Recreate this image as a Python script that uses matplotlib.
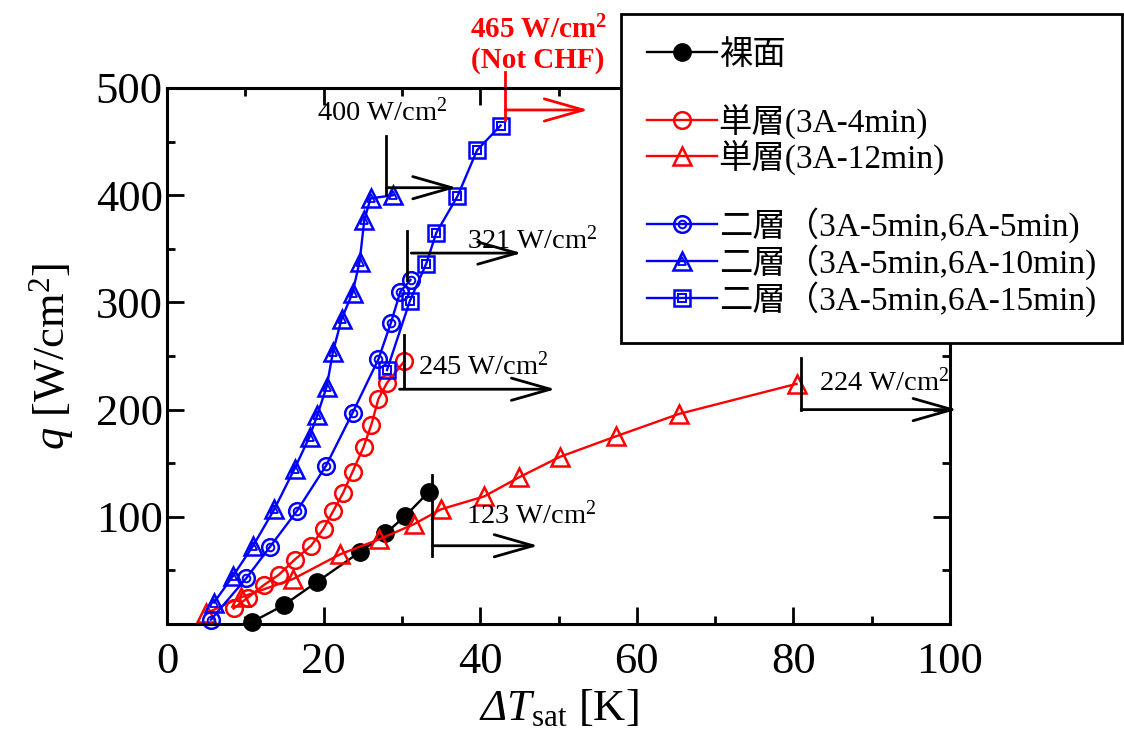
import matplotlib
matplotlib.use('Agg')
import matplotlib.pyplot as plt
from matplotlib.lines import Line2D
from matplotlib.ticker import MultipleLocator

plt.rcParams['font.family'] = ['Liberation Serif', 'Noto Sans CJK JP']
plt.rcParams['mathtext.fontset'] = 'custom'
plt.rcParams['mathtext.rm'] = 'Liberation Serif'
plt.rcParams['mathtext.it'] = 'Liberation Serif:italic'
plt.rcParams['mathtext.bf'] = 'Liberation Serif:bold'
# italic capital Greek (mathtext forces \mathit Greek capitals upright)
plt.rcParams['mathtext.cal'] = 'Liberation Serif:italic'

# data (dT_sat [K], q [W/cm2])
bare_dt = [10.9, 14.9, 19.2, 24.7, 27.9, 30.4, 33.4]
bare_q = [2, 17.5, 39.5, 67.5, 84.5, 100.5, 123]

single4_dt = [8.5, 10.3, 12.4, 14.3, 16.3, 18.4, 20.0, 21.2, 22.5, 23.7, 25.1, 26.1, 27.0, 28.1, 30.3]
single4_q = [14.5, 24.5, 36.5, 46, 60, 73, 89, 105, 122.5, 142, 165, 186, 210, 225, 245]

single12_dt = [5.0, 9.5, 16.1, 22.1, 27.1, 31.5, 35.0, 40.5, 45.0, 50.2, 57.3, 65.4, 80.4]
single12_q = [10, 25, 42, 65, 79, 93, 107, 119, 137, 156, 175, 196, 224]

double5_dt = [5.6, 10.1, 13.1, 16.6, 20.3, 23.7, 27.0, 28.6, 29.8, 31.1]
double5_q = [4, 42.5, 71.5, 105.5, 147.5, 197, 247, 281, 310, 321]

double10_dt = [6.0, 8.4, 11.0, 13.7, 16.3, 18.2, 19.2, 20.4, 21.2, 22.3, 23.7, 24.6, 25.2, 26.0, 28.9]
double10_q = [20, 44.5, 73, 107, 145, 174.5, 195, 221.5, 254, 284.5, 309, 338, 377, 397, 400]

double15_dt = [28.1, 31.0, 33.1, 34.4, 37.1, 39.6, 42.6]
double15_q = [237, 301, 336, 365, 399, 442, 465]

labels = ['裸面', '単層(3A-4min)', '単層(3A-12min)',
          '二層（3A-5min,6A-5min)', '二層（3A-5min,6A-10min)', '二層（3A-5min,6A-15min)']

# CHF markers: (text, text x, text y, vline x, vline y0, vline y1, arrow y, arrow x0, arrow x1)
chf_notes = [
    ('400 W/cm$^2$', 19.2, 477, 28.0, 400, 455, 407, 28.0, 37.0),
    ('321 W/cm$^2$', 38.3, 358, 30.6, 321, 367, 346, 31.2, 45.3),
    ('245 W/cm$^2$', 32.0, 240, 30.3, 220, 270, 219, 29.7, 49.6),
    ('123 W/cm$^2$', 38.2, 101, 33.9, 63, 139, 73, 33.9, 47.4),
    ('224 W/cm$^2$', 83.3, 225, 81.0, 200, 248, 200, 81.0, 100.9),
]

BLUE = '#0000ff'
RED = '#ff0000'

fig = plt.figure(figsize=(11.24, 7.32), dpi=100)
ax = fig.add_axes([167 / 1124, 1 - 624 / 732, (950 - 167) / 1124, (624 - 88) / 732])

lw = 1.7
mew = 1.8

h_bare, = ax.plot(bare_dt, bare_q, '-o', color='black', mfc='black', mec='black',
                  ms=12.5, lw=lw, clip_on=False)
h_s4, = ax.plot(single4_dt, single4_q, '-o', color=RED, mfc='none', mec=RED,
                ms=12, lw=lw, mew=mew, clip_on=False)
h_s12, = ax.plot(single12_dt, single12_q, '-^', color=RED, mfc='none', mec=RED,
                 ms=13, lw=lw, mew=mew, clip_on=False)

# double-layer series: outer marker plus a small inner marker
h_d5, = ax.plot(double5_dt, double5_q, '-o', color=BLUE, mfc='none', mec=BLUE,
                ms=12, lw=lw, mew=mew, clip_on=False)
h_d5i, = ax.plot(double5_dt, double5_q, 'o', mfc='none', mec=BLUE, ms=5.5, mew=1.4, clip_on=False)
h_d10, = ax.plot(double10_dt, double10_q, '-^', color=BLUE, mfc='none', mec=BLUE,
                 ms=12.5, lw=lw, mew=mew, clip_on=False)
h_d10i, = ax.plot(double10_dt, double10_q, '^', mfc='none', mec=BLUE, ms=6, mew=1.3, clip_on=False)
h_d15, = ax.plot(double15_dt, double15_q, '-s', color=BLUE, mfc='none', mec=BLUE,
                 ms=12, lw=lw, mew=mew, clip_on=False)
h_d15i, = ax.plot(double15_dt, double15_q, 's', mfc='none', mec=BLUE, ms=5.5, mew=1.4, clip_on=False)

arrow_props = dict(arrowstyle='->,head_length=1.4,head_width=0.4', lw=2,
                   mutation_scale=20, shrinkA=0, shrinkB=0)

for text, tx, ty, vx, vy0, vy1, ay, ax0, ax1 in chf_notes:
    ax.plot([vx, vx], [vy0, vy1], color='black', lw=2, clip_on=False)
    ax.annotate('', xy=(ax1, ay), xytext=(ax0, ay), arrowprops=dict(arrow_props, color='black'),
                annotation_clip=False)
    ax.text(tx, ty, text, fontsize=20.5, ha='left', va='center', clip_on=False)

# 465 W/cm2 (not CHF) marker in red
ax.plot([43.2, 43.2], [470, 515], color=RED, lw=2, clip_on=False)
ax.annotate('', xy=(53.8, 479.5), xytext=(43.2, 479.5), arrowprops=dict(arrow_props, color=RED),
            annotation_clip=False)
ax.text(47.4, 540, '465 W/cm$^\\mathbf{2}$\n(Not CHF)', fontsize=21, fontweight='bold',
        color=RED, ha='center', va='center', linespacing=1.1, clip_on=False)

ax.set_xlim(0, 100)
ax.set_ylim(0, 500)
ax.xaxis.set_major_locator(MultipleLocator(20))
ax.xaxis.set_minor_locator(MultipleLocator(10))
ax.yaxis.set_major_locator(MultipleLocator(100))
ax.yaxis.set_minor_locator(MultipleLocator(50))
ax.set_yticks([100, 200, 300, 400, 500])
ax.tick_params(which='both', direction='in', top=True, right=True, width=2, labelsize=32)
ax.tick_params(which='major', length=12)
ax.tick_params(which='minor', length=6)
ax.tick_params(axis='x', which='major', pad=13)
ax.tick_params(axis='y', which='major', pad=3)
for s in ax.spines.values():
    s.set_linewidth(2.2)

ax.set_xlabel(r'$\mathcal{Δ}\mathit{T}_{\mathrm{sat}}$ [K]', fontsize=32, labelpad=4)
ax.set_ylabel(r'$\mathit{q}$ [W/cm$^2$]', fontsize=32, labelpad=14)

blank = Line2D([], [], alpha=0)
handles = [h_bare, blank, h_s4, h_s12, blank, (h_d5, h_d5i), (h_d10, h_d10i), (h_d15, h_d15i)]
leg_labels = [labels[0], ' ', labels[1], labels[2], ' ', labels[3], labels[4], labels[5]]
leg = fig.legend(handles, leg_labels, loc='upper left', bbox_to_anchor=(621 / 1124, 1 - 14 / 732),
                 fontsize=24, frameon=True, fancybox=False, framealpha=1, edgecolor='black',
                 handlelength=2.1, handletextpad=0.05, borderpad=0.78, labelspacing=0.03,
                 borderaxespad=0)
leg.get_frame().set_linewidth(2)

fig.savefig('out.png', dpi=100)
